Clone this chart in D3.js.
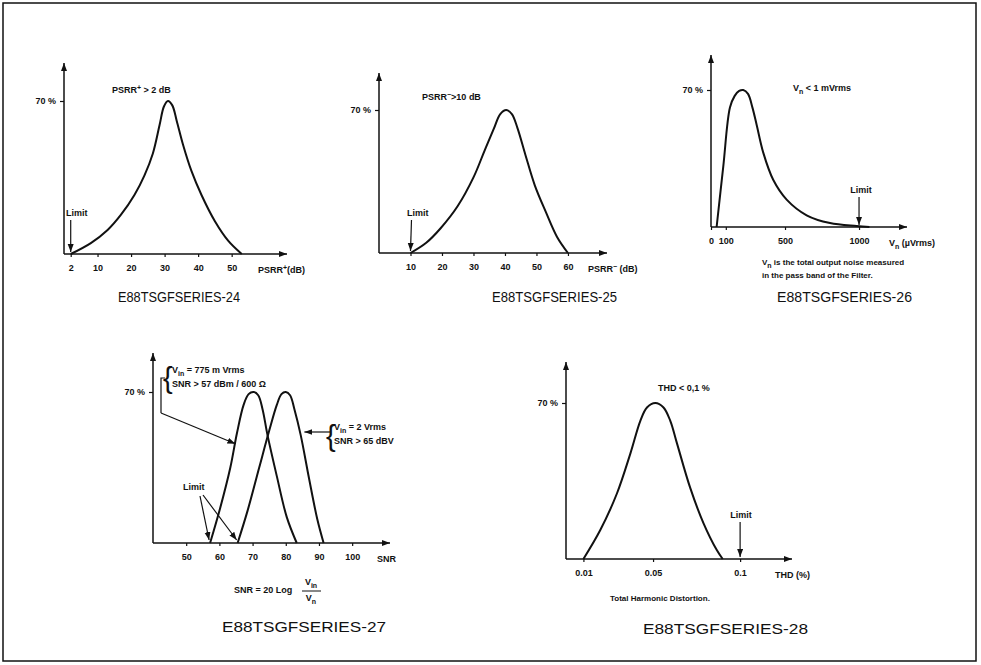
<!DOCTYPE html>
<html>
<head>
<meta charset="utf-8">
<script src="https://cdn.jsdelivr.net/npm/d3@7"></script>
<style>
body { margin: 0; background: #fff; }
svg text { font-family: "Liberation Sans", Arial, sans-serif; fill: #111; }
.lbl { font-size: 9px; font-weight: bold; }
.cap { font-size: 14px; }
</style>
</head>
<body>
<svg id="chart" width="981" height="665"></svg>
<script>
// ---- values (x value, % of parts) ----
var psrrPlusDb  = [2, 8, 13, 17, 21, 24, 26.5, 28.5, 29.8, 31, 32.3, 33.6, 35.5, 38, 41, 45, 49, 53];
var psrrPlusPct = [0, 5, 11, 18, 27, 36, 46, 59, 67.5, 70, 68, 61, 50, 38, 27, 15, 6, 0];

var psrrMinusDb  = [10, 15, 19.5, 25, 30, 33.5, 36.5, 38.5, 40.4, 42.2, 44, 46.5, 49.5, 53, 56.5, 60];
var psrrMinusPct = [0, 5, 12, 23, 37, 50, 61, 68, 70, 68, 61, 48, 33, 20, 8, 0];

var vnUv  = [38, 83, 128, 160, 190, 218, 250, 280, 309, 353, 421, 511, 646, 804, 984, 1070];
var vnPct = [0, 31, 61, 67, 69.5, 70, 68, 61, 52, 38, 24, 14, 6, 2, 0.5, 0];

var snrA    = [57.2, 60.2, 63.3, 65.3, 67.3, 68.8, 70.3, 71.7, 73, 74.5, 77.3, 80.3, 83.3];
var snrAPct = [0, 16, 35, 51, 64, 69, 70, 68.5, 62, 50, 31, 12, 0];
var snrB    = [65.5, 68.5, 72, 75, 77.3, 78.7, 80, 81.3, 82.6, 84.5, 87, 89.5, 91.4];
var snrBPct = [0, 15, 35, 52, 64, 69, 70, 68.5, 62, 50, 30, 11, 0];

var thdPc  = [0.01, 0.0197, 0.0293, 0.037, 0.0427, 0.0465, 0.0513, 0.056, 0.0599, 0.0637, 0.0713, 0.079, 0.0866, 0.09];
var thdPct = [0, 13, 29.5, 47.4, 62, 68, 70, 68, 62, 52, 32, 16, 4, 0];

// tick labels
var ticks1 = [2, 10, 20, 30, 40, 50];
var ticks2 = [10, 20, 30, 40, 50, 60];
var ticks3 = [0, 100, 500, 1000];
var ticks4 = [50, 60, 70, 80, 90, 100];
var ticks5 = [0.01, 0.05, 0.1];
var ticks5Labels = ["0.01", "0.05", "0.1"];
var captions = ["E88TSGFSERIES-24", "E88TSGFSERIES-25", "E88TSGFSERIES-26", "E88TSGFSERIES-27", "E88TSGFSERIES-28"];

var svg = d3.select("#chart");

svg.append("rect")
    .attr("x", 3).attr("y", 3)
    .attr("width", 973).attr("height", 658)
    .attr("fill", "none").attr("stroke", "#111").attr("stroke-width", 1.5);

var defs = svg.append("defs");
defs.append("marker")
    .attr("id", "arr")
    .attr("markerUnits", "userSpaceOnUse")
    .attr("markerWidth", 9).attr("markerHeight", 7)
    .attr("refX", 8).attr("refY", 3)
    .attr("orient", "auto")
    .append("path").attr("d", "M0,0 L8,3 L0,6 z").attr("fill", "#111");

function zip(xs, ys) {
    return xs.map(function(d, i) { return [d, ys[i]]; });
}

// text with sub/sup parts: [["V"],["in","sub"],[" = 2 Vrms","subEnd"]]
function rich(g, x, y, parts, anchor) {
    var t = g.append("text").attr("class", "lbl")
        .attr("x", x).attr("y", y)
        .attr("text-anchor", anchor || "start");
    parts.forEach(function(p) {
        var s = t.append("tspan").text(p[0]);
        if (p[1] == "sub") s.attr("dy", 2.5).attr("font-size", 7);
        if (p[1] == "sup") s.attr("dy", -3.5).attr("font-size", 7);
        if (p[1] == "subEnd") s.attr("dy", -2.5);
        if (p[1] == "supEnd") s.attr("dy", 3.5);
    });
    return t;
}

function arrowLine(g, x1, y1, x2, y2, head) {
    var l = g.append("line")
        .attr("x1", x1).attr("y1", y1).attr("x2", x2).attr("y2", y2)
        .attr("stroke", "#111").attr("stroke-width", 1.2);
    if (head !== false) l.attr("marker-end", "url(#arr)");
    return l;
}

function panel(cfg) {
    var g = svg.append("g");
    var x = d3.scaleLinear().domain(cfg.xDomain).range(cfg.xRange);
    var y = d3.scaleLinear().domain([0, 70]).range(cfg.yRange);

    // axes with arrows
    arrowLine(g, x.range()[0], y(0), x.range()[1], y(0)).attr("stroke-width", 1.5);
    arrowLine(g, x.range()[0], y(0), x.range()[0], cfg.yTop).attr("stroke-width", 1.5);

    var xa = d3.axisBottom(x).tickValues(cfg.ticks).tickSize(3).tickPadding(8)
        .tickFormat(cfg.tickFormat || function(d) { return d; });
    var gx = g.append("g").attr("transform", "translate(0," + y(0) + ")").call(xa);
    gx.select(".domain").remove();
    gx.selectAll("line").attr("stroke", "#111").attr("stroke-width", 1.2);
    gx.selectAll("text").attr("class", "lbl").attr("fill", "#111");
    gx.attr("font-size", null).attr("font-family", null);

    var ya = d3.axisLeft(y).tickValues([70]).tickSize(4).tickPadding(4)
        .tickFormat(function() { return "70 %"; });
    var gy = g.append("g").attr("transform", "translate(" + x.range()[0] + ",0)").call(ya);
    gy.select(".domain").remove();
    gy.selectAll("line").attr("stroke", "#111").attr("stroke-width", 1.2);
    gy.selectAll("text").attr("class", "lbl").attr("fill", "#111");
    gy.attr("font-size", null).attr("font-family", null);

    var line = d3.line()
        .x(function(d) { return x(d[0]); })
        .y(function(d) { return y(d[1]); })
        .curve(d3.curveCatmullRom.alpha(0.5));
    cfg.series.forEach(function(s) {
        g.append("path").datum(s)
            .attr("d", line)
            .attr("fill", "none").attr("stroke", "#111")
            .attr("stroke-width", 2).attr("stroke-linejoin", "round");
    });

    g.append("text").attr("class", "cap")
        .attr("x", cfg.cap[0]).attr("y", cfg.cap[1])
        .attr("textLength", cfg.cap[2]).attr("lengthAdjust", "spacingAndGlyphs")
        .text(cfg.caption);

    return { g: g, x: x, y: y };
}

// ---- panel 24 ----
var p1 = panel({
    xDomain: [0, 66.5], xRange: [64, 287], yRange: [254, 101], yTop: 63,
    ticks: ticks1, series: [zip(psrrPlusDb, psrrPlusPct)],
    caption: captions[0], cap: [118, 302, 122]
});
rich(p1.g, 112, 93, [["PSRR"], ["+", "sup"], [" > 2 dB", "supEnd"]]);
rich(p1.g, 66, 216, [["Limit"]]);
arrowLine(p1.g, p1.x(2), 220, p1.x(2), p1.y(0) - 2);
rich(p1.g, 258, p1.y(0) + 19, [["PSRR"], ["+", "sup"], ["(dB)", "supEnd"]]);

// ---- panel 25 ----
var p2 = panel({
    xDomain: [0, 72.4], xRange: [379, 607], yRange: [253, 110], yTop: 73,
    ticks: ticks2, series: [zip(psrrMinusDb, psrrMinusPct)],
    caption: captions[1], cap: [492, 302, 125]
});
rich(p2.g, 422, 100, [["PSRR"], ["\u2212", "sup"], [">10 dB", "supEnd"]]);
rich(p2.g, 407, 216, [["Limit"]]);
arrowLine(p2.g, p2.x(10) + 1, 220, p2.x(10), p2.y(0) - 2);
rich(p2.g, 588, p2.y(0) + 19, [["PSRR"], ["\u2212", "sup"], [" (dB)", "supEnd"]]);

// ---- panel 26 ----
var p3 = panel({
    xDomain: [0, 1324], xRange: [711, 907], yRange: [227, 90], yTop: 55,
    ticks: ticks3, series: [zip(vnUv, vnPct)],
    caption: captions[2], cap: [777, 302, 135]
});
rich(p3.g, 793, 91, [["V"], ["n", "sub"], [" < 1 mVrms", "subEnd"]]);
rich(p3.g, p3.x(1000) + 2, 193, [["Limit"]], "middle");
arrowLine(p3.g, p3.x(1000), 197, p3.x(1000), p3.y(0) - 2);
rich(p3.g, 889, p3.y(0) + 19, [["V"], ["n", "sub"], [" (\u00b5Vrms)", "subEnd"]]);
rich(p3.g, 762, 265, [["V"], ["n", "sub"], [" is the total output noise measured", "subEnd"]]).style("font-size", "8px");
rich(p3.g, 762, 278, [["in the pass band of the Filter."]]).style("font-size", "8px");

// ---- panel 27 ----
var p4 = panel({
    xDomain: [40, 111.4], xRange: [153, 390], yRange: [543, 392], yTop: 353,
    ticks: ticks4, series: [zip(snrA, snrAPct), zip(snrB, snrBPct)],
    caption: captions[3], cap: [222, 632, 164]
});
p4.g.append("text").attr("x", 163).attr("y", 388).attr("font-size", 29).attr("font-weight", "200").text("{");
rich(p4.g, 172, 373, [["V"], ["in", "sub"], [" =  775 m Vrms", "subEnd"]]);
rich(p4.g, 172, 387, [["SNR > 57 dBm / 600 \u03a9"]]);
p4.g.append("path")
    .attr("d", "M165,378 L161,378 L161,413")
    .attr("fill", "none").attr("stroke", "#111").attr("stroke-width", 1.2);
arrowLine(p4.g, 161, 413, p4.x(64.8), p4.y(46));
p4.g.append("text").attr("x", 326).attr("y", 446).attr("font-size", 29).attr("font-weight", "200").text("{");
rich(p4.g, 334, 430, [["V"], ["in", "sub"], [" = 2 Vrms", "subEnd"]]);
rich(p4.g, 334, 444, [["SNR > 65 dBV"]]);
arrowLine(p4.g, 330, 432, p4.x(85.6), 432);
rich(p4.g, 183, 490, [["Limit"]]);
arrowLine(p4.g, 200, 496, p4.x(57.2) - 1, p4.y(0) - 3);
arrowLine(p4.g, 203, 495, p4.x(65.5) - 1, p4.y(0) - 3);
rich(p4.g, 377, p4.y(0) + 19, [["SNR"]]);
rich(p4.g, 234, 593, [["SNR = 20 Log"]]);
rich(p4.g, 311, 585, [["V"], ["in", "sub"]], "middle");
p4.g.append("line").attr("x1", 302).attr("x2", 321).attr("y1", 591).attr("y2", 591)
    .attr("stroke", "#111").attr("stroke-width", 1);
rich(p4.g, 311, 601, [["V"], ["n", "sub"]], "middle");

// ---- panel 28 ----
var p5 = panel({
    xDomain: [0, 0.1298], xRange: [566, 792], yRange: [559, 403], yTop: 362,
    ticks: ticks5, series: [zip(thdPc, thdPct)],
    tickFormat: function(d, i) { return ticks5Labels[i]; },
    caption: captions[4], cap: [643, 634, 165]
});
rich(p5.g, 658, 391, [["THD < 0,1 %"]]);
rich(p5.g, p5.x(0.1) + 1, 518, [["Limit"]], "middle");
arrowLine(p5.g, p5.x(0.1), 522, p5.x(0.1), p5.y(0) - 2);
rich(p5.g, 775, p5.y(0) + 19, [["THD (%)"]]);
rich(p5.g, 610, 601, [["Total Harmonic Distortion."]]).style("font-size", "8px");
</script>
</body>
</html>
